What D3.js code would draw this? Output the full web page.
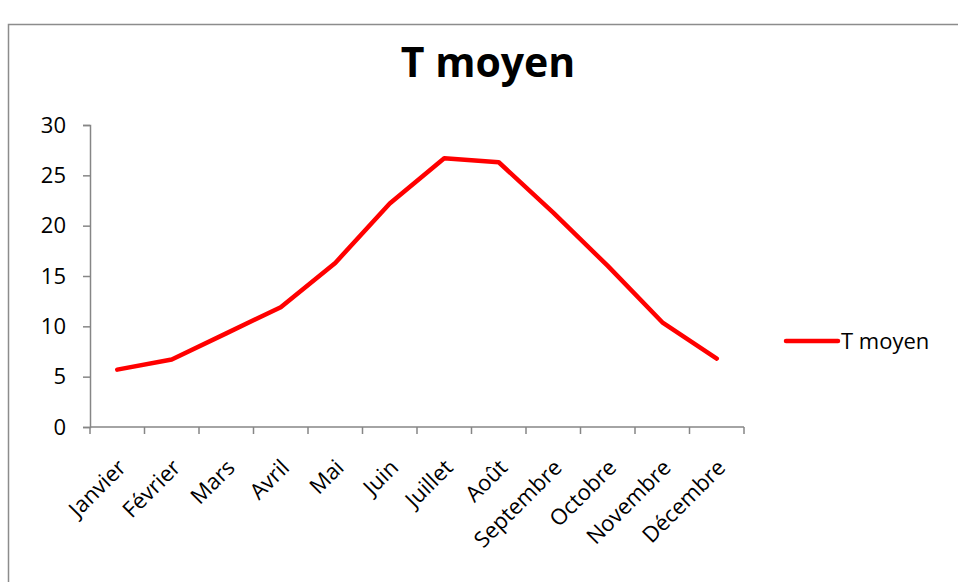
<!DOCTYPE html>
<html>
<head>
<meta charset="utf-8">
<script src="https://cdn.jsdelivr.net/npm/d3@7"></script>
<style>
  body { margin: 0; background: #fff; }
  text { font-family: "Open Sans", "Noto Sans", sans-serif; fill: #000; }
</style>
</head>
<body>
<script>
// données
var mois = ["Janvier", "Février", "Mars", "Avril", "Mai", "Juin", "Juillet", "Août",
            "Septembre", "Octobre", "Novembre", "Décembre"]
var tMoyen = [5.7, 6.7, 9.3, 11.9, 16.3, 22.2, 26.7, 26.3, 21.3, 16.0, 10.4, 6.8]
var ticksY = [0, 5, 10, 15, 20, 25, 30]
var nomSerie = "T moyen"

var width = 958
var height = 582
var margin = { top: 125, bottom: 155, left: 90, right: 214 }

var svg = d3.select("body")
  .append("svg")
  .attr("width", width)
  .attr("height", height)

// cadre du graphique (coupé à droite et en bas)
svg.append("rect")
  .attr("x", 8.5).attr("y", 24.5)
  .attr("width", 1000).attr("height", 1000)
  .attr("fill", "none")
  .attr("stroke", "#8c8c8c")
  .attr("stroke-width", 1.5)

svg.append("text")
  .attr("x", 488)
  .attr("y", 77)
  .attr("text-anchor", "middle")
  .style("font-size", "41px")
  .style("font-weight", "bold")
  .text(nomSerie)

var x = d3.scaleBand()
  .domain(mois)
  .range([margin.left, width - margin.right])

var y = d3.scaleLinear()
  .domain([0, 30])
  .range([height - margin.bottom, margin.top])

// axe Y
var ejeY = d3.axisLeft(y).tickValues(ticksY).tickSize(7).tickPadding(17)
var gY = svg.append("g")
  .attr("transform", "translate(" + margin.left + ",0)")
  .call(ejeY)
gY.selectAll("text").style("font-size", "22px")
gY.selectAll("line, path").attr("stroke", "#868686").attr("stroke-width", 1.5)

// axe X, graduations entre les catégories
var gX = svg.append("g")
  .attr("transform", "translate(0," + (height - margin.bottom) + ")")
gX.append("line")
  .attr("x1", margin.left).attr("x2", width - margin.right)
  .attr("y1", 0).attr("y2", 0)
var bords = mois.map(function(m) { return x(m) }).concat([x(mois[mois.length - 1]) + x.bandwidth()])
gX.selectAll(".tk").data(bords).enter()
  .append("line")
  .attr("class", "tk")
  .attr("x1", d => d).attr("x2", d => d)
  .attr("y1", 0).attr("y2", 7)
gX.selectAll("line").attr("stroke", "#868686").attr("stroke-width", 1.5)
gX.selectAll(".lbl").data(mois).enter()
  .append("text")
  .attr("class", "lbl")
  .attr("text-anchor", "end")
  .attr("transform", d => "translate(" + (x(d) + x.bandwidth() / 2 + 10) + ",42) rotate(-45)")
  .style("font-size", "22px")
  .text(d => d)

// la courbe
svg.append("path")
  .datum(tMoyen)
  .attr("fill", "none")
  .attr("stroke", "#ff0000")
  .attr("stroke-width", 4.5)
  .attr("stroke-linecap", "round")
  .attr("stroke-linejoin", "round")
  .attr("d", d3.line()
    .x((d, i) => x(mois[i]) + x.bandwidth() / 2)
    .y(d => y(d)))

// légende
var leg = svg.append("g").attr("transform", "translate(786,341)")
leg.append("line")
  .attr("x1", 0).attr("x2", 52)
  .attr("stroke", "#ff0000")
  .attr("stroke-width", 4.5)
  .attr("stroke-linecap", "round")
leg.append("text")
  .attr("x", 55)
  .attr("y", 8)
  .style("font-size", "22px")
  .text(nomSerie)
</script>
</body>
</html>
